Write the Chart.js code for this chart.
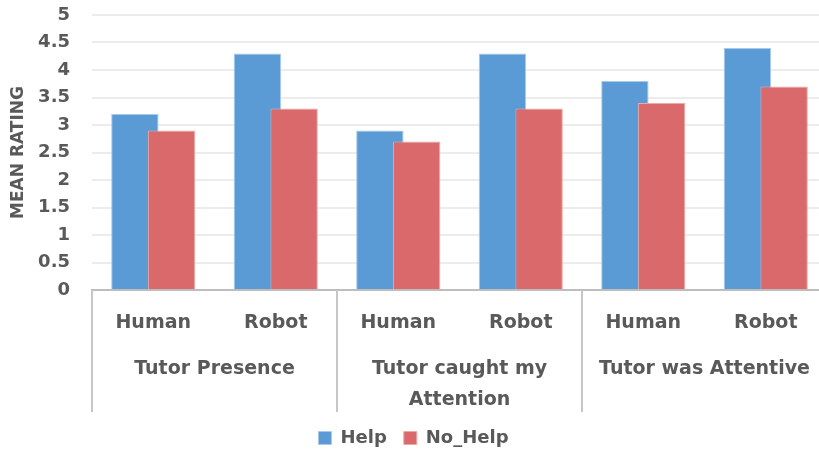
<!DOCTYPE html>
<html>
<head>
<meta charset="utf-8">
<script src="https://cdn.jsdelivr.net/npm/chart.js@4"></script>
<style>
  html, body { margin: 0; padding: 0; background: #fff; overflow: hidden; }
  #wrap { width: 819px; height: 457px; overflow: hidden; }
</style>
</head>
<body>
<div id="wrap"><canvas id="chart" width="830" height="457"></canvas></div>
<script>
// data
const categories = ["Human", "Robot", "Human", "Robot", "Human", "Robot"];
const groupLabels = ["Tutor Presence", ["Tutor caught my", "Attention"], "Tutor was Attentive"];
const helpValues = [3.2, 4.3, 2.9, 4.3, 3.8, 4.4];
const noHelpValues = [2.9, 3.3, 2.7, 3.3, 3.4, 3.7];
const yMin = 0, yMax = 5, yStep = 0.5;

const textColor = "#595959";
const fontFamily = "'DejaVu Sans', sans-serif";

// vertical separators between the three groups
const groupLines = {
    id: "groupLines",
    afterDraw(chart) {
        const x = chart.scales.x;
        const x2 = chart.scales.x2;
        const ctx = chart.ctx;
        const half = (x.getPixelForValue(1) - x.getPixelForValue(0)) / 2;
        ctx.save();
        ctx.strokeStyle = "#c6c6c6";
        ctx.lineWidth = 2;
        for (let i = 0; i <= categories.length; i += 2) {
            const px = i < categories.length
                ? x.getPixelForValue(i) - half
                : x.getPixelForValue(i - 1) + half;
            ctx.beginPath();
            ctx.moveTo(px, x.top);
            ctx.lineTo(px, x2.bottom);
            ctx.stroke();
        }
        ctx.restore();
    }
};

// the red bars sit on top of the blue ones, but Help stays on the left
let drawingLate = false;
const redOnTop = {
    id: "redOnTop",
    beforeDatasetDraw(chart, args) {
        if (args.index === 1 && !drawingLate) return false;
    },
    afterDatasetsDraw(chart) {
        drawingLate = true;
        chart.getDatasetMeta(1).controller.draw();
        drawingLate = false;
    }
};

new Chart(document.getElementById("chart"), {
    type: "bar",
    data: {
        labels: categories,
        datasets: [
            {
                label: "Help",
                data: helpValues,
                backgroundColor: "#5B9BD5",
                borderColor: "#a8c9ea",
                borderWidth: 1,
                xAxisID: "x"
            },
            {
                label: "No_Help",
                data: noHelpValues,
                backgroundColor: "#D9696A",
                borderColor: "#eba9a9",
                borderWidth: 1,
                xAxisID: "x"
            }
        ]
    },
    options: {
        responsive: false,
        animation: false,
        categoryPercentage: 0.6,
        barPercentage: 1.29,
        layout: { padding: { top: 15, right: 3, left: 0, bottom: 0 } },
        plugins: {
            tooltip: { enabled: false },
            legend: {
                position: "bottom",
                labels: {
                    color: textColor,
                    font: { family: fontFamily, size: 18, weight: "bold" },
                    boxWidth: 13,
                    boxHeight: 13,
                    padding: 17
                }
            }
        },
        scales: {
            x: {
                type: "category",
                position: "bottom",
                offset: true,
                grid: { display: false, drawTicks: false },
                border: { display: true, color: "#bdbdbd", width: 2 },
                ticks: {
                    color: textColor,
                    font: { family: fontFamily, size: 19, weight: "bold" },
                    padding: 22,
                    maxRotation: 0,
                    autoSkip: false
                },
                afterFit(scale) {
                    scale.height = 42;
                    scale.paddingLeft = 0;
                    scale.paddingRight = 0;
                }
            },
            x2: {
                type: "category",
                position: "bottom",
                labels: groupLabels,
                offset: true,
                grid: { display: false, drawTicks: false },
                border: { display: false },
                ticks: {
                    color: textColor,
                    font: { family: fontFamily, size: 19, weight: "bold", lineHeight: 1.6 },
                    padding: 22,
                    maxRotation: 0,
                    autoSkip: false
                },
                afterFit(scale) {
                    scale.height = 80;
                    scale.paddingLeft = 0;
                    scale.paddingRight = 0;
                }
            },
            y: {
                min: yMin,
                max: yMax,
                grid: { color: "#ececec", lineWidth: 2, drawTicks: false },
                border: { display: false },
                ticks: {
                    stepSize: yStep,
                    color: textColor,
                    font: { family: fontFamily, size: 18, weight: "bold" },
                    padding: 22,
                    callback: (value) => String(value)
                },
                title: {
                    display: true,
                    text: "MEAN RATING",
                    color: textColor,
                    font: { family: fontFamily, size: 17, weight: "bold" },
                    padding: { top: 8, bottom: 0 }
                },
                afterFit(scale) {
                    scale.width = 92;
                    scale.paddingTop = 0;
                    scale.paddingBottom = 0;
                }
            }
        }
    },
    plugins: [groupLines, redOnTop]
});
</script>
</body>
</html>
